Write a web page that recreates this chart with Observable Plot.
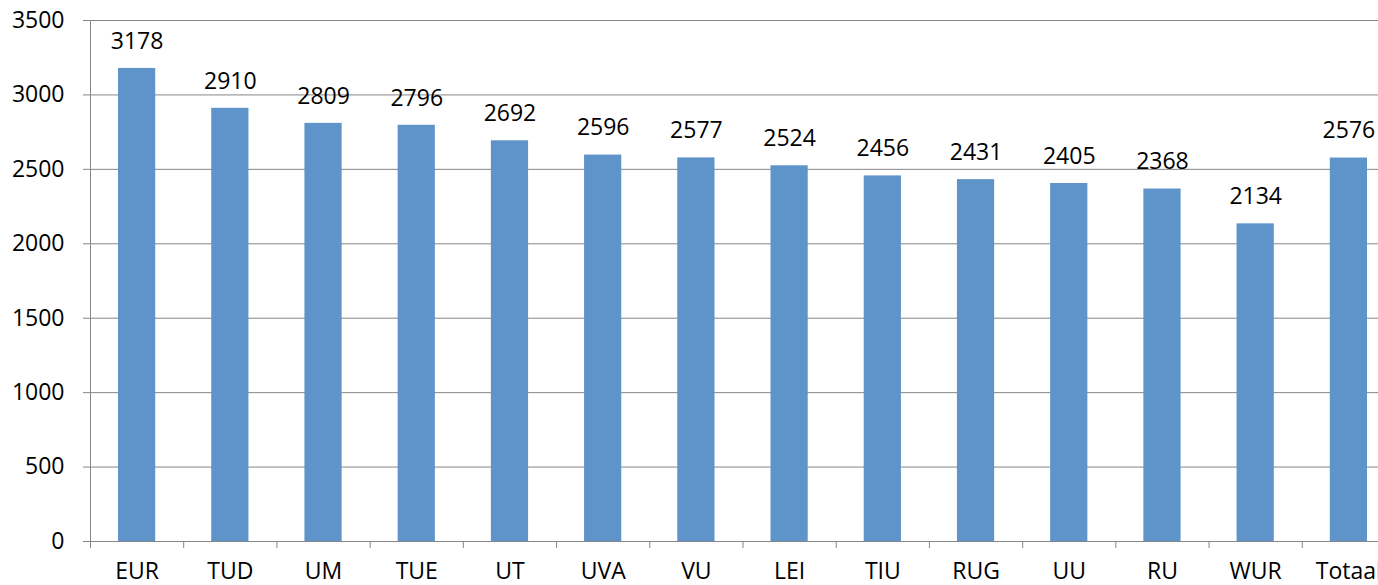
<!DOCTYPE html>
<html>
<head>
<meta charset="utf-8">
<script src="https://cdn.jsdelivr.net/npm/d3@7"></script>
<script src="https://cdn.jsdelivr.net/npm/@observablehq/plot@0.6"></script>
<style>
  html, body { margin: 0; padding: 0; background: #fff; overflow: hidden; }
  #chart svg { display: block; max-width: none !important; }
</style>
</head>
<body>
<div id="chart"></div>
<script>
const categories = ["EUR", "TUD", "UM", "TUE", "UT", "UVA", "VU", "LEI", "TIU", "RUG", "UU", "RU", "WUR", "Totaal"];
const values = [3178, 2910, 2809, 2796, 2692, 2596, 2577, 2524, 2456, 2431, 2405, 2368, 2134, 2576];
const yTicks = [0, 500, 1000, 1500, 2000, 2500, 3000, 3500];

const data = categories.map((c, i) => ({cat: c, i, value: values[i]}));
const n = categories.length;

const font = "'Open Sans', 'Noto Sans', sans-serif";
const grid = "#868686";

const chart = Plot.plot({
  width: 1395,
  height: 585,
  marginTop: 20,
  marginBottom: 44,
  marginLeft: 90,
  marginRight: 0,
  style: {fontFamily: font, fontSize: "23px", color: "#000", background: "#fff", maxWidth: "none"},
  x: {type: "linear", domain: [0, n], axis: null},
  y: {domain: [0, 3500], axis: null},
  marks: [
    Plot.ruleY(yTicks, {stroke: grid, strokeWidth: 1}),
    Plot.ruleX([0], {y1: 0, y2: 3500, stroke: grid, strokeWidth: 1}),
    Plot.axisY({ticks: yTicks, tickSize: 7, tickPadding: 19, stroke: grid, fontSize: 23, label: null, tickFormat: d => String(d)}),
    Plot.rectY(data, {x1: "i", x2: d => d.i + 1, y1: 0, y2: "value", fill: "#5e94c9", insetLeft: 28, insetRight: 28}),
    Plot.axisX({ticks: d3.range(n + 1), tickSize: 7, label: null, tickFormat: () => "", stroke: grid}),
    Plot.axisX({ticks: d3.range(n).map(i => i + 0.5), tickSize: 0, tickPadding: 21, fontSize: 23, label: null, tickFormat: d => categories[Math.floor(d)]}),
    Plot.text(data, {x: d => d.i + 0.5, y: "value", text: d => String(d.value), dy: -27, lineAnchor: "middle", fontSize: 23, fill: "#000"})
  ]
});
document.getElementById("chart").appendChild(chart);
</script>
</body>
</html>
